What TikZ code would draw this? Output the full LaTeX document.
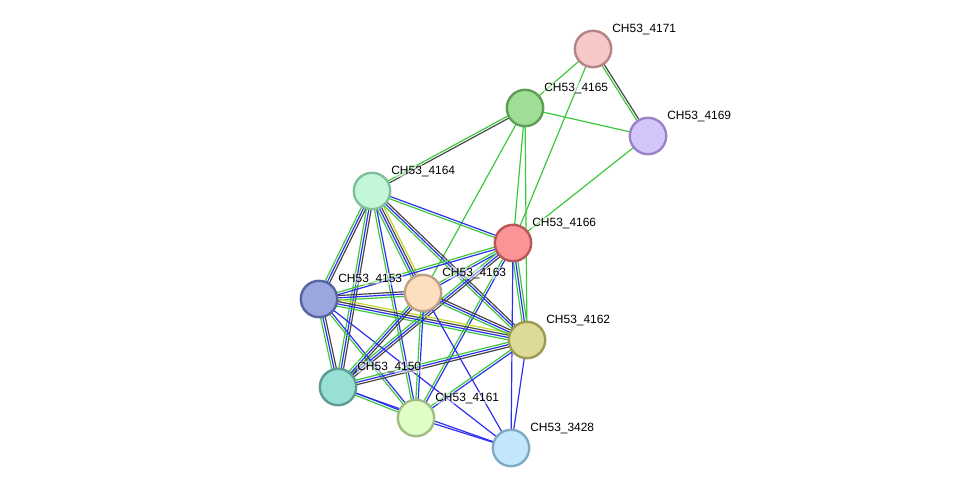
\documentclass[tikz,border=0pt]{standalone}
\usepackage{fontspec}
\setmainfont{Liberation Sans}
\usepackage{tikz}
\usetikzlibrary{calc, backgrounds}

\definecolor{colNbh}{HTML}{3CC83C}
\definecolor{colCooc}{HTML}{2E2EF0}
\definecolor{colCoexp}{HTML}{474747}
\definecolor{colText}{HTML}{C4D62C}

\tikzset{
  prot/.style 2 args={circle, /utils/exec={\definecolor{protfill}{HTML}{#1}\definecolor{protline}{HTML}{#2}},
                      fill=protfill, draw=protline, line width=1.7pt, minimum size=9.1mm, inner sep=0pt},
  lbl/.style={anchor=base west, xshift=1.2mm, yshift=0.8mm, font=\fontsize{8.5}{10}\selectfont,
              fill=white, fill opacity=0.45, text opacity=1, inner sep=0.4pt},
  nbh/.style={draw=colNbh, line width=0.85pt},
  cooc/.style={draw=colCooc, line width=0.85pt},
  coexp/.style={draw=colCoexp, line width=0.85pt},
  tm/.style={draw=colText, line width=0.85pt}
}

% parallel lines between two proteins, one per evidence channel
\newcommand{\linksep}{1.65}
\newcommand{\link}[3]{%
  \foreach \c [count=\i] in {#3} {\xdef\nlinks{\i}}%
  \foreach \c [count=\i] in {#3} {%
    \pgfmathsetmacro{\off}{(\i-(\nlinks+1)/2)*\linksep}%
    \draw[\c] ($(#1)!\off pt!90:(#2)$) -- ($(#2)!\off pt!-90:(#1)$);
  }%
}

\begin{document}
\begin{tikzpicture}[x=0.25mm, y=-0.25mm]
\useasboundingbox (0,0) rectangle (976,494);

\node[prot={F8C8C8}{B48484}, label={[lbl]45:CH53\_4171}] (p4171) at (593,49) {};
\node[prot={A0DE96}{5E9F56}, label={[lbl]45:CH53\_4165}] (p4165) at (525,108) {};
\node[prot={D4C6FB}{9683CA}, label={[lbl]45:CH53\_4169}] (p4169) at (648,136) {};
\node[prot={C2F8D8}{80C09C}, label={[lbl]45:CH53\_4164}] (p4164) at (372,191) {};
\node[prot={FB9494}{B85757}, label={[lbl]45:CH53\_4166}] (p4166) at (513,243) {};
\node[prot={9BA6DF}{5864A2}, label={[lbl]45:CH53\_4153}] (p4153) at (319,299) {};
\node[prot={FDDFC0}{BCA285}, label={[lbl]45:CH53\_4163}] (p4163) at (423,293) {};
\node[prot={DDDB95}{9D9A55}, label={[lbl]45:CH53\_4162}] (p4162) at (527,340) {};
\node[prot={98DFD5}{5B9D92}, label={[lbl]45:CH53\_4150}] (p4150) at (338,387) {};
\node[prot={DFFDC4}{A1BC84}, label={[lbl]45:CH53\_4161}] (p4161) at (416,418) {};
\node[prot={C2E6FB}{80A9C4}, label={[lbl]45:CH53\_3428}] (p3428) at (511,448) {};

\begin{scope}[on background layer]
\link{p4171}{p4165}{nbh}
\link{p4171}{p4169}{nbh,coexp}
\link{p4171}{p4166}{nbh}
\link{p4165}{p4169}{nbh}
\link{p4165}{p4164}{nbh,coexp}
\link{p4165}{p4166}{nbh}
\link{p4165}{p4162}{nbh}
\link{p4165}{p4163}{nbh}
\link{p4169}{p4166}{nbh}
\link{p4164}{p4166}{nbh,cooc}
\link{p4164}{p4153}{nbh,cooc,coexp}
\link{p4164}{p4150}{nbh,cooc,coexp}
\link{p4164}{p4163}{nbh,cooc,coexp,tm}
\link{p4164}{p4161}{nbh,cooc}
\link{p4164}{p4162}{nbh,cooc,coexp}
\link{p4166}{p4153}{nbh,cooc}
\link{p4166}{p4163}{nbh,cooc}
\link{p4166}{p4162}{nbh,cooc,nbh}
\link{p4166}{p4150}{nbh,cooc,coexp}
\link{p4166}{p4161}{nbh,cooc}
\link{p4166}{p3428}{cooc}
\link{p4153}{p4163}{nbh,cooc,coexp}
\link{p4153}{p4162}{nbh,cooc,coexp,tm}
\link{p4153}{p4150}{nbh,cooc,coexp}
\link{p4153}{p4161}{nbh,cooc}
\link{p4153}{p3428}{cooc}
\link{p4163}{p4162}{nbh,cooc,coexp}
\link{p4163}{p4150}{nbh,cooc,coexp}
\link{p4163}{p4161}{nbh,cooc}
\link{p4163}{p3428}{cooc}
\link{p4162}{p4150}{nbh,cooc,coexp}
\link{p4162}{p4161}{nbh,cooc}
\link{p4162}{p3428}{cooc}
\link{p4150}{p4161}{nbh,cooc}
\link{p4150}{p3428}{cooc}
\link{p4161}{p3428}{cooc}
\end{scope}
\end{tikzpicture}
\end{document}
